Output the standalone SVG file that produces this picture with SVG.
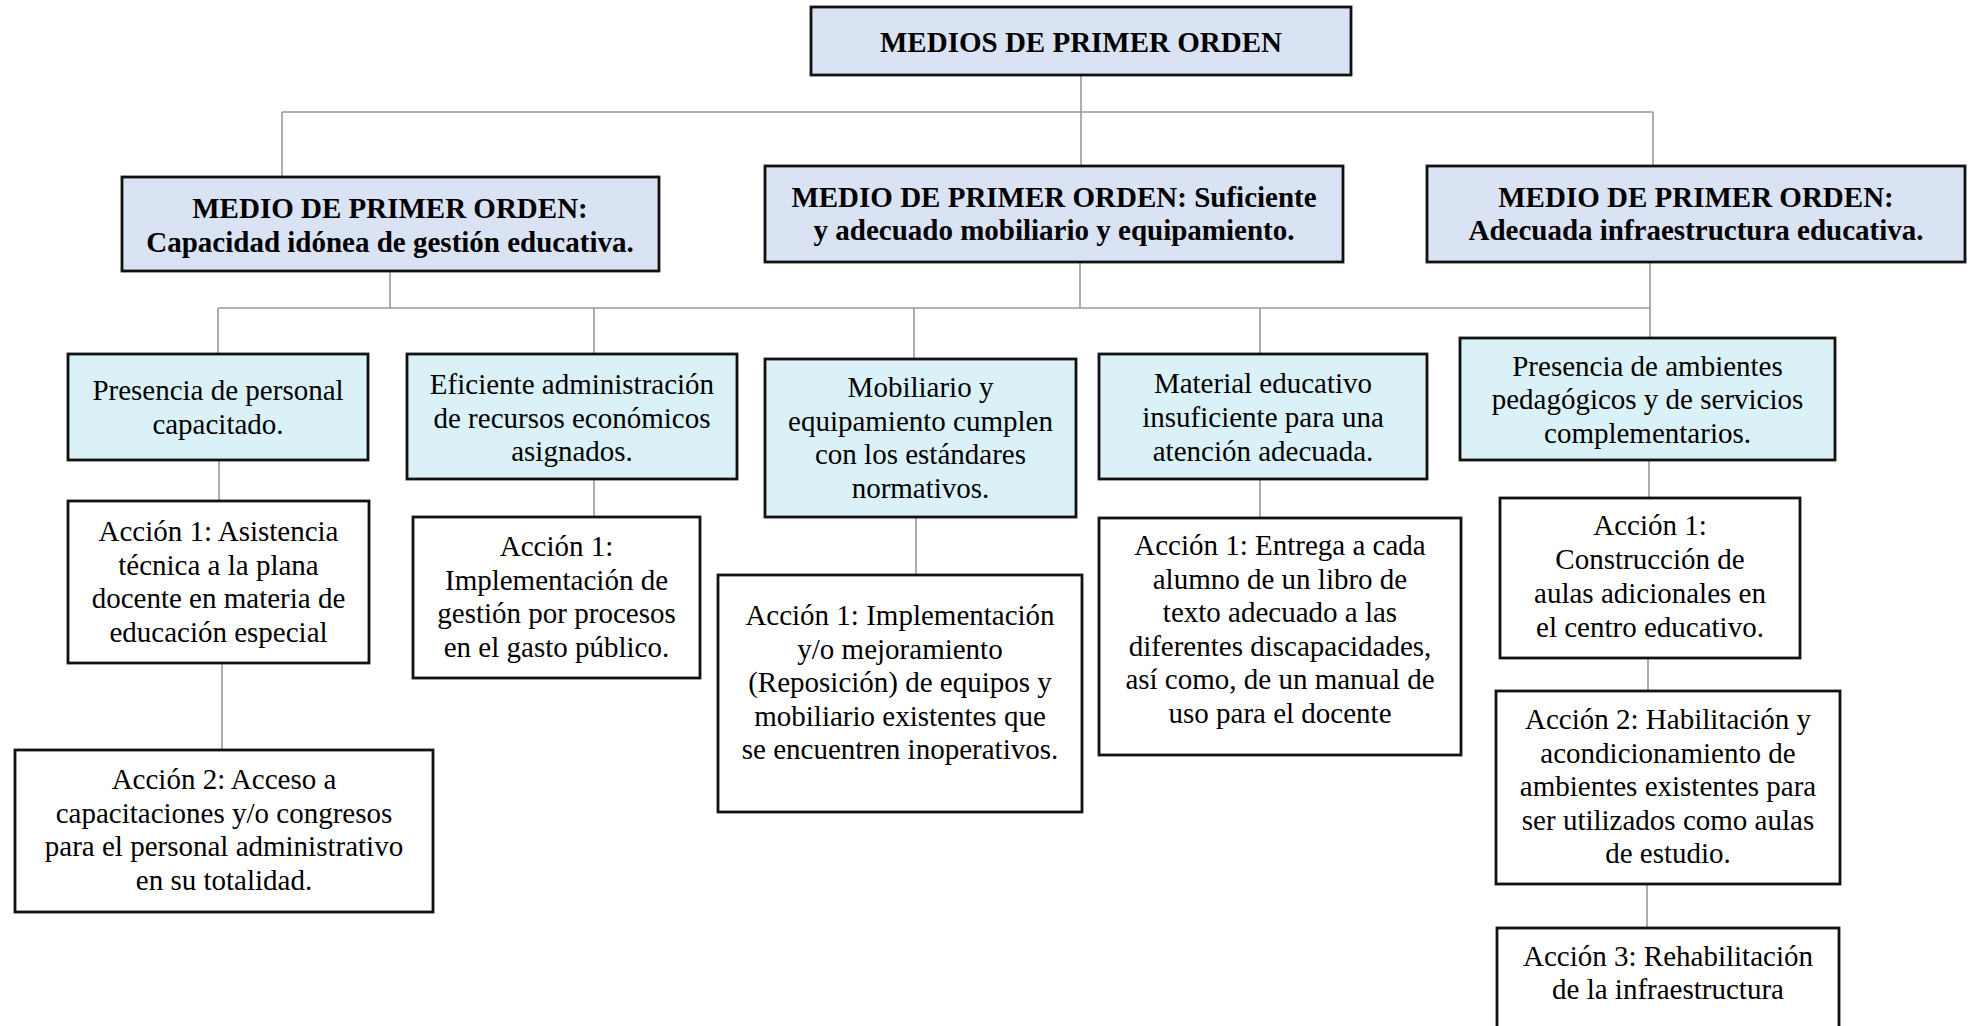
<svg xmlns="http://www.w3.org/2000/svg" width="1974" height="1026" viewBox="0 0 1974 1026">
<style>
.box{stroke:#111;stroke-width:2.8}
.h{fill:#DAE3F3}
.m{fill:#DAF1F7}
.a{fill:#FFFFFF}
text{font-family:"Liberation Serif","Times New Roman",serif;font-size:29px;fill:#000;text-anchor:middle}
.b{font-weight:bold}
.c line{stroke:#999;stroke-width:1.6}
</style>
<rect width="1974" height="1026" fill="#fff"/>
<g class="c" id="connectors">
<line x1="1081" y1="75" x2="1081" y2="166"/>
<line x1="282" y1="112" x2="1653" y2="112"/>
<line x1="282" y1="112" x2="282" y2="177"/>
<line x1="1653" y1="112" x2="1653" y2="166"/>
<line x1="390" y1="271" x2="390" y2="308"/>
<line x1="1080" y1="262" x2="1080" y2="308"/>
<line x1="1650" y1="262" x2="1650" y2="338"/>
<line x1="218" y1="308" x2="1650" y2="308"/>
<line x1="218" y1="308" x2="218" y2="354"/>
<line x1="594" y1="308" x2="594" y2="354"/>
<line x1="914" y1="308" x2="914" y2="359"/>
<line x1="1260" y1="308" x2="1260" y2="354"/>
<line x1="219" y1="460" x2="219" y2="501"/>
<line x1="222" y1="663" x2="222" y2="750"/>
<line x1="594" y1="479" x2="594" y2="517"/>
<line x1="916" y1="517" x2="916" y2="575"/>
<line x1="1260" y1="479" x2="1260" y2="518"/>
<line x1="1649" y1="460" x2="1649" y2="498"/>
<line x1="1648" y1="658" x2="1648" y2="691"/>
<line x1="1647" y1="884" x2="1647" y2="928"/>
</g>
<g id="top">
<rect class="box h" x="811" y="7" width="540" height="68"/>
<text class="b" x="1081" y="52">MEDIOS DE PRIMER ORDEN</text>
</g>
<g id="medio1">
<rect class="box h" x="122" y="177" width="537" height="94"/>
<text class="b" x="390" y="218">MEDIO DE PRIMER ORDEN:</text>
<text class="b" x="390" y="252">Capacidad idónea de gestión educativa.</text>
</g>
<g id="medio2">
<rect class="box h" x="765" y="166" width="578" height="96"/>
<text class="b" x="1054" y="207">MEDIO DE PRIMER ORDEN: Suficiente</text>
<text class="b" x="1054" y="240">y adecuado mobiliario y equipamiento.</text>
</g>
<g id="medio3">
<rect class="box h" x="1427" y="166" width="538" height="96"/>
<text class="b" x="1696" y="207">MEDIO DE PRIMER ORDEN:</text>
<text class="b" x="1696" y="240">Adecuada infraestructura educativa.</text>
</g>
<g id="presencia-personal">
<rect class="box m" x="68" y="354" width="300" height="106"/>
<text x="218" y="400">Presencia de personal</text>
<text x="218" y="434">capacitado.</text>
</g>
<g id="eficiente">
<rect class="box m" x="407" y="354" width="330" height="125"/>
<text x="572" y="394">Eficiente administración</text>
<text x="572" y="427.5">de recursos económicos</text>
<text x="572" y="461">asignados.</text>
</g>
<g id="mobiliario">
<rect class="box m" x="765" y="359" width="311" height="158"/>
<text x="920.5" y="397">Mobiliario y</text>
<text x="920.5" y="430.5">equipamiento cumplen</text>
<text x="920.5" y="464">con los estándares</text>
<text x="920.5" y="497.5">normativos.</text>
</g>
<g id="material">
<rect class="box m" x="1099" y="354" width="328" height="125"/>
<text x="1263" y="393">Material educativo</text>
<text x="1263" y="427">insuficiente para una</text>
<text x="1263" y="461">atención adecuada.</text>
</g>
<g id="presencia-ambientes">
<rect class="box m" x="1460" y="338" width="375" height="122"/>
<text x="1647.5" y="375.5">Presencia de ambientes</text>
<text x="1647.5" y="409">pedagógicos y de servicios</text>
<text x="1647.5" y="442.5">complementarios.</text>
</g>
<g id="accion1-asistencia">
<rect class="box a" x="68" y="501" width="301" height="162"/>
<text x="218.5" y="541">Acción 1: Asistencia</text>
<text x="218.5" y="574.5">técnica a la plana</text>
<text x="218.5" y="608">docente en materia de</text>
<text x="218.5" y="641.5">educación especial</text>
</g>
<g id="accion2-acceso">
<rect class="box a" x="15" y="750" width="418" height="162"/>
<text x="224" y="789">Acción 2: Acceso a</text>
<text x="224" y="822.5">capacitaciones y/o congresos</text>
<text x="224" y="856">para el personal administrativo</text>
<text x="224" y="889.5">en su totalidad.</text>
</g>
<g id="accion1-gestion">
<rect class="box a" x="413" y="517" width="287" height="161"/>
<text x="556.5" y="556">Acción 1:</text>
<text x="556.5" y="589.5">Implementación de</text>
<text x="556.5" y="623">gestión por procesos</text>
<text x="556.5" y="656.5">en el gasto público.</text>
</g>
<g id="accion1-equipos">
<rect class="box a" x="718" y="575" width="364" height="237"/>
<text x="900" y="625">Acción 1: Implementación</text>
<text x="900" y="658.5">y/o mejoramiento</text>
<text x="900" y="692">(Reposición) de equipos y</text>
<text x="900" y="725.5">mobiliario existentes que</text>
<text x="900" y="759">se encuentren inoperativos.</text>
</g>
<g id="accion1-libro">
<rect class="box a" x="1099" y="518" width="362" height="237"/>
<text x="1280" y="555">Acción 1: Entrega a cada</text>
<text x="1280" y="588.5">alumno de un libro de</text>
<text x="1280" y="622">texto adecuado a las</text>
<text x="1280" y="655.5">diferentes discapacidades,</text>
<text x="1280" y="689">así como, de un manual de</text>
<text x="1280" y="722.5">uso para el docente</text>
</g>
<g id="accion1-construccion">
<rect class="box a" x="1500" y="498" width="300" height="160"/>
<text x="1650" y="535">Acción 1:</text>
<text x="1650" y="569">Construcción de</text>
<text x="1650" y="603">aulas adicionales en</text>
<text x="1650" y="637">el centro educativo.</text>
</g>
<g id="accion2-habilitacion">
<rect class="box a" x="1496" y="691" width="344" height="193"/>
<text x="1668" y="729">Acción 2: Habilitación y</text>
<text x="1668" y="762.5">acondicionamiento de</text>
<text x="1668" y="796">ambientes existentes para</text>
<text x="1668" y="829.5">ser utilizados como aulas</text>
<text x="1668" y="863">de estudio.</text>
</g>
<g id="accion3-rehabilitacion">
<rect class="box a" x="1497" y="928" width="342" height="120"/>
<text x="1668" y="966">Acción 3: Rehabilitación</text>
<text x="1668" y="999">de la infraestructura</text>
</g>
</svg>
